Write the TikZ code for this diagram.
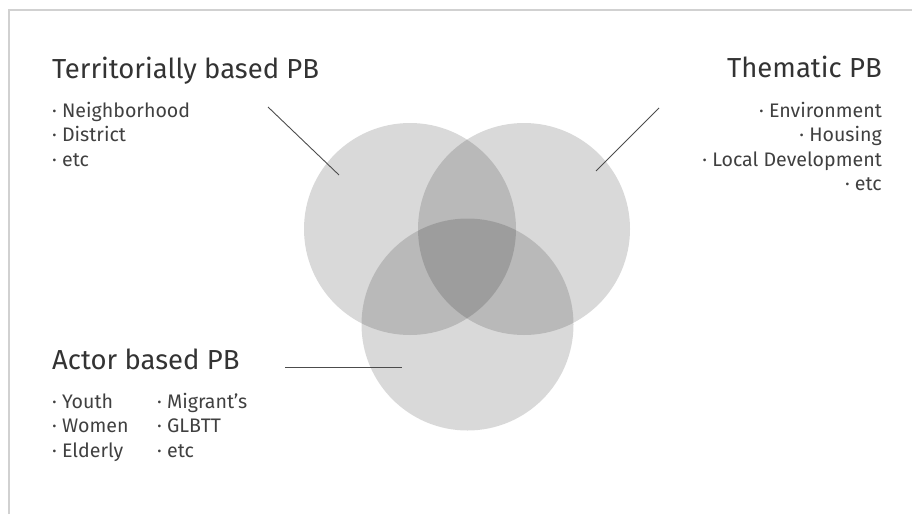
\documentclass[tikz,border=0pt]{standalone}
\usepackage{fontspec}
\setmainfont{Fira Sans}
\usepackage{tikz}
\usetikzlibrary{positioning}

\tikzset{
	head/.style={font=\fontsize{27.5}{32}\selectfont, text=black!80, inner sep=0pt},
	item/.style={font=\fontsize{19.6}{24}\selectfont, text=black!75, inner sep=0pt},
	lead/.style={black!70, line width=.9pt},
	blob/.style={fill=black, fill opacity=.15},
}

\begin{document}
\begin{tikzpicture}[x=1pt, y=-1pt]

	\useasboundingbox (0,0) rectangle (912,514);

	\def\r{106}
	\def\gap{24.5}

	% frame
	\draw[black!18, line width=1.2pt] (9,514) -- (9,10) -- (912,10);

	% three circles
	\fill[blob] (410,229) circle[radius=\r];
	\fill[blob] (524,229) circle[radius=\r];
	\fill[blob] (467.5,324.5) circle[radius=\r];

	% headings
	\node[head, anchor=base west] (terr) at (52,78) {Territorially based PB};
	\node[head, anchor=base east] (them) at (882,77) {Thematic PB};
	\node[head, anchor=base west] (actor) at (52,369) {Actor based PB};

	% lists
	\foreach \t [count=\i] in {Neighborhood, District, etc}
		\node[item, anchor=base west] (terr\i) at (52, 92.5+\gap*\i) {· \t};

	\foreach \t [count=\i] in {Environment, Housing, Local Development, etc}
		\node[item, anchor=base east] (them\i) at (882, 92.5+\gap*\i) {· \t};

	\foreach \t [count=\i] in {Youth, Women, Elderly}
		\node[item, anchor=base west] (actor\i) at (52, 383.5+\gap*\i) {· \t};

	\foreach \t [count=\i] in {Migrant's, GLBTT, etc}
		\node[item, anchor=base west] (actorb\i) at (157, 383.5+\gap*\i) {· \t};

	% leader lines
	\coordinate (terr-a) at (268,107);
	\coordinate (terr-b) at (339,175);
	\coordinate (them-a) at (659,108);
	\coordinate (them-b) at (596,171);
	\coordinate (actor-a) at (285,367);
	\coordinate (actor-b) at (402,367);

	\draw[lead] (terr-a) -- (terr-b);
	\draw[lead] (them-a) -- (them-b);
	\draw[lead] (actor-a) -- (actor-b);

\end{tikzpicture}
\end{document}
